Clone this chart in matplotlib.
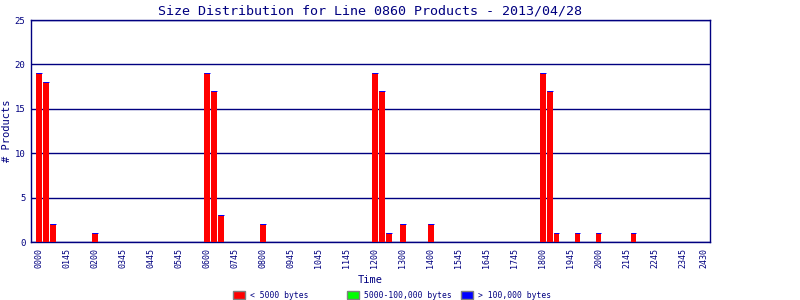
import matplotlib
matplotlib.use("Agg")
import matplotlib.pyplot as plt
from matplotlib.patches import Rectangle

# 15-minute bins that have products (HHMM) and counts per size class
bins = ['0000', '0015', '0030', '0200', '0600', '0615', '0630', '0800',
        '1200', '1215', '1230', '1300', '1400', '1800', '1815', '1830',
        '1915', '2000', '2115']
small = [19, 18, 2, 1, 19, 17, 3, 2, 19, 17, 1, 2, 2, 19, 17, 1, 1, 1, 1]
medium = [0] * len(bins)
large = [0] * len(bins)

tick_labels = ['0000', '0145', '0200', '0345', '0445', '0545', '0600', '0745',
               '0800', '0945', '1045', '1145', '1200', '1300', '1400', '1545',
               '1645', '1745', '1800', '1945', '2000', '2145', '2245', '2345', '2430']
tick_pos = list(range(24)) + [23.75]

legend_labels = ['< 5000 bytes', '5000-100,000 bytes', '> 100,000 bytes']
legend_colors = ['#ff0000', '#00ff00', '#0000ff']

navy = '#000080'
font = 'DejaVu Sans Mono'

# time in hours
x = [int(b[:2]) + int(b[2:]) / 60 for b in bins]
w = 0.21

fig = plt.figure(figsize=(8, 3), dpi=100)
ax = fig.add_axes([0.03875, 0.1933, 0.84875, 0.74])

ax.bar(x, small, width=w, color=legend_colors[0], linewidth=0, zorder=3)
bot = [s for s in small]
ax.bar(x, medium, width=w, bottom=bot, color=legend_colors[1], linewidth=0, zorder=3)
bot = [s + m for s, m in zip(small, medium)]
ax.bar(x, large, width=w, bottom=bot, color=legend_colors[2], edgecolor=legend_colors[2],
       linewidth=0.7, zorder=4)

ax.set_xlim(-0.27, 23.98)
ax.set_ylim(0, 25)
ax.set_yticks([0, 5, 10, 15, 20, 25])
ax.set_xticks(tick_pos)
ax.set_xticklabels(tick_labels, rotation=90, fontsize=6, family=font, color=navy)
for lab in ax.get_yticklabels():
    lab.set_fontsize(6.5)
    lab.set_family(font)
    lab.set_color(navy)
ax.tick_params(length=0, pad=4)
ax.grid(axis='y', color=navy, linewidth=1, zorder=1)
for s in ax.spines.values():
    s.set_color(navy)
    s.set_linewidth(1)

ax.set_title('Size Distribution for Line 0860 Products - 2013/04/28',
             fontsize=9.6, family=font, color=navy, pad=4)
ax.set_xlabel('Time', fontsize=7.5, family=font, color=navy, labelpad=5)
ax.set_ylabel('# Products', fontsize=7.5, family=font, color=navy, labelpad=2)

# legend boxes at a fixed pitch like the original
for i, (lab, col) in enumerate(zip(legend_labels, legend_colors)):
    x0 = (233 + 114 * i) / 800
    fig.patches.append(Rectangle((x0, 1 - 299 / 300), 12 / 800, 8 / 300,
                                 transform=fig.transFigure, facecolor=col,
                                 edgecolor='gray', linewidth=1))
    fig.text(x0 + 17 / 800, 1 - 295 / 300, lab, fontsize=5.8, family=font,
             color=navy, va='center', ha='left')

fig.savefig('out.png', dpi=100)
